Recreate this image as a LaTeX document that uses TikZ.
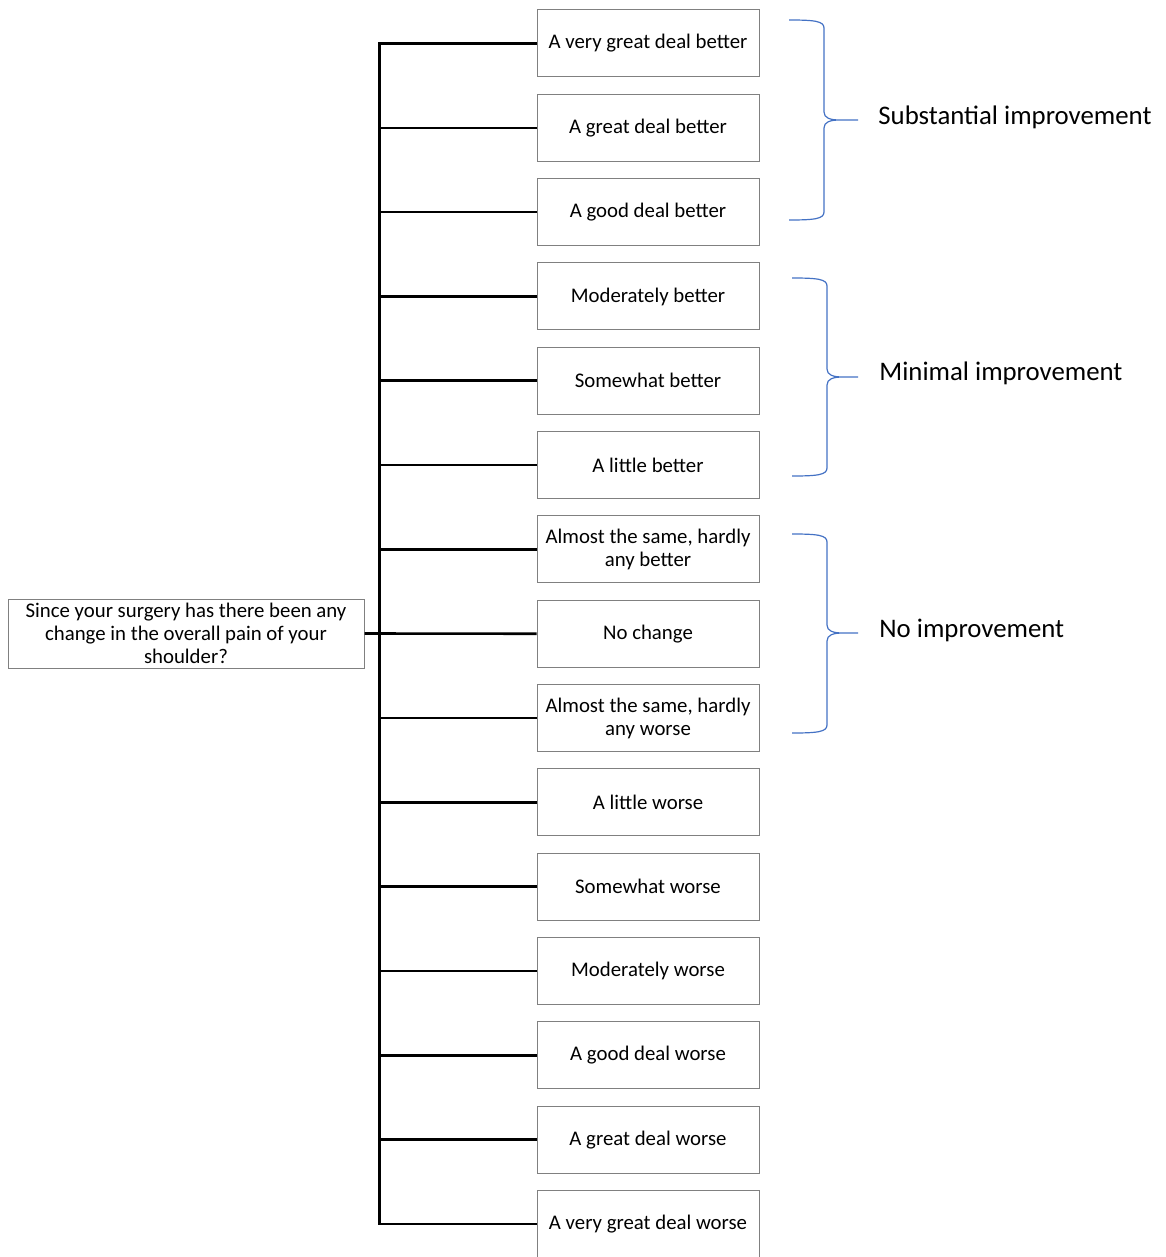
\documentclass[tikz,border=0pt]{standalone}
\usepackage{fontspec}
\setmainfont{Carlito}
\usetikzlibrary{positioning}
\definecolor{bracecol}{RGB}{68,114,196}
\definecolor{boxgray}{RGB}{128,128,128}

\begin{document}
\begin{tikzpicture}[%
        x=0.5pt, y=-0.5pt,
        node distance=42.16pt,
        on grid,
        answer/.style={draw=boxgray, line width=0.5pt, fill=white,
          minimum width=111pt, minimum height=33.5pt, inner sep=0pt,
          align=center, font=\fontsize{10.4pt}{11.5pt}\selectfont},
        question/.style={answer, minimum width=178pt, minimum height=34.5pt},
        stem/.style={line width=1.3pt},
        group/.style={anchor=base west, inner sep=0pt, font=\fontsize{13.4pt}{16pt}\selectfont},
        curly/.style={draw=bracecol, line width=0.6pt}
        ]

        \useasboundingbox (0,0) rectangle (1166,1257);

        % question and answers
        \node[question] (q) at (186,633.5) {Since your surgery has there been any\\change in the overall pain of your\\shoulder?};
        \node[answer] (b1) at (648,43.5) {A very great deal better};
        \node[answer] (b2) [below=of b1] {A great deal better};
        \node[answer] (b3) [below=of b2] {A good deal better};
        \node[answer] (b4) [below=of b3] {Moderately better};
        \node[answer] (b5) [below=of b4] {Somewhat better};
        \node[answer] (b6) [below=of b5] {A little better};
        \node[answer] (b7) [below=of b6] {Almost the same, hardly\\any better};
        \node[answer] (b8) [below=of b7] {No change};
        \node[answer] (b9) [below=of b8] {Almost the same, hardly\\any worse};
        \node[answer] (b10) [below=of b9] {A little worse};
        \node[answer] (b11) [below=of b10] {Somewhat worse};
        \node[answer] (b12) [below=of b11] {Moderately worse};
        \node[answer] (b13) [below=of b12] {A good deal worse};
        \node[answer] (b14) [below=of b13] {A great deal worse};
        \node[answer] (b15) [below=of b14] {A very great deal worse};

        \coordinate[right=7.5pt of q.east] (s);

        % tree lines
        \draw[stem] (q.east) -- (b8.west);
        \draw[stem] (b1.west) -| (s);
        \draw[stem] (b15.west) -| (s);
        \foreach \i in {2,...,7,9,10,...,14}
          \draw[stem] (b\i.west) -- (b\i.west -| s);

        % braces
        \foreach \ya/\ym/\yb/\xa in {20/120/220/789, 278/377/476/792, 534/633/733/792}
          \draw[curly] (\xa,\ya) .. controls (\xa+25,\ya) and (\xa+35,\ya+1) .. (\xa+35,\ya+8)
            -- (\xa+35,\ym-8) .. controls (\xa+35,\ym-2) and (\xa+41,\ym) .. (\xa+51,\ym) -- (858,\ym)
            (\xa+51,\ym) .. controls (\xa+41,\ym) and (\xa+35,\ym+2) .. (\xa+35,\ym+8)
            -- (\xa+35,\yb-8) .. controls (\xa+35,\yb-1) and (\xa+25,\yb) .. (\xa,\yb);

        \node[group] (sub) at (878,125) {Substantial improvement};
        \node[group] (min) at (879,380) {Minimal improvement};
        \node[group] (none) at (879,637) {No improvement};

        \end{tikzpicture}
\end{document}
